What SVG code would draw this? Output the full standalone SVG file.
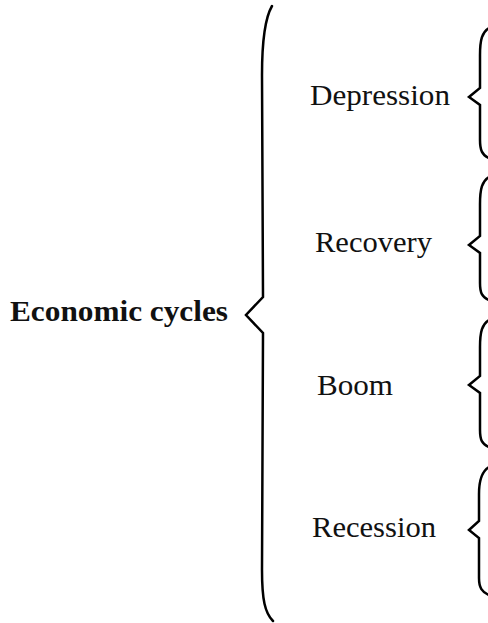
<svg xmlns="http://www.w3.org/2000/svg" width="488" height="623" viewBox="0 0 488 623">
<style>
.t{font-family:"Liberation Serif","Times New Roman",serif;font-size:30px;fill:#111}
.b{font-weight:bold}
.br{fill:none;stroke:#000;stroke-width:2.5;stroke-linejoin:miter;stroke-linecap:round}
</style>
<rect width="488" height="623" fill="#fff"/>
<g id="root"><text class="t b" x="10" y="321" textLength="218" lengthAdjust="spacingAndGlyphs">Economic cycles</text></g>
<g id="depression"><text class="t" x="310" y="105" textLength="140" lengthAdjust="spacingAndGlyphs">Depression</text></g>
<g id="recovery"><text class="t" x="315" y="252" textLength="117" lengthAdjust="spacingAndGlyphs">Recovery</text></g>
<g id="boom"><text class="t" x="317" y="395" textLength="76" lengthAdjust="spacingAndGlyphs">Boom</text></g>
<g id="recession"><text class="t" x="312" y="537" textLength="124" lengthAdjust="spacingAndGlyphs">Recession</text></g>
<g id="connectors">
<path class="br" d="M272,6 C265,18 262,38 262,75 L263,297 L246,315 L263,333 L262,570 C262,600 265,613 273,621"/>
<path class="br" d="M489,28 C482,32 480,40 480,55 L480,88 L469,97 L480,105 L480,140 C480,150 482,155 489,158"/>
<path class="br" d="M489,177 C482,181 480,189 480,204 L480,236 L469,245 L480,253 L480,283 C480,293 482,297 489,300"/>
<path class="br" d="M489,320 C482,324 480,332 480,347 L480,376 L469,385 L480,393 L480,430 C480,440 482,444 489,447"/>
<path class="br" d="M489,467 C482,471 479,479 479,494 L479,521 L469,530 L479,538 L479,578 C479,588 482,592 489,595"/>
</g>
</svg>
